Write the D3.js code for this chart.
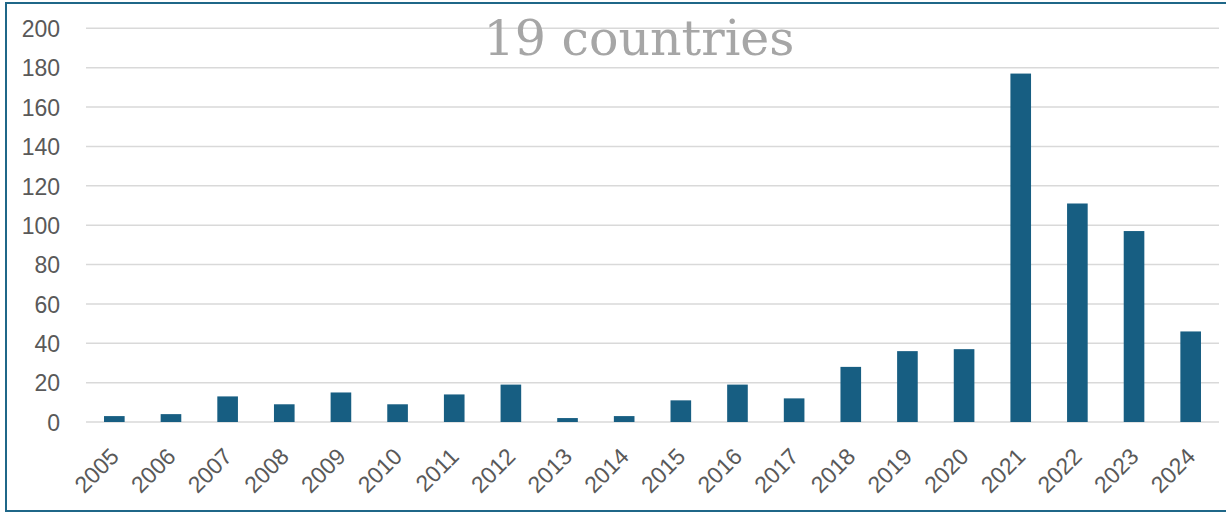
<!DOCTYPE html>
<html>
<head>
<meta charset="utf-8">
<script src="https://cdn.jsdelivr.net/npm/d3@7"></script>
<style>
  html, body { margin: 0; padding: 0; background: #fff; }
  svg { display: block; }
</style>
</head>
<body>
<svg id="chart" width="1226" height="513"></svg>
<script>
const years = ["2005","2006","2007","2008","2009","2010","2011","2012","2013","2014",
               "2015","2016","2017","2018","2019","2020","2021","2022","2023","2024"];
const counts = [3, 4, 13, 9, 15, 9, 14, 19, 2, 3, 11, 19, 12, 28, 36, 37, 177, 111, 97, 46];
const yTicks = [0, 20, 40, 60, 80, 100, 120, 140, 160, 180, 200];
const title = "19 countries";

const svg = d3.select("#chart");
const W = 1226, H = 513;
const plotLeft = 86, plotRight = 1219, plotTop = 28.3, plotBottom = 422;

// frame
svg.append("path")
  .attr("d", `M${W + 5},3 L6,3 L6,511 L${W + 5},511`)
  .attr("fill", "none")
  .attr("stroke", "#1f6788")
  .attr("stroke-width", 2);

const x = d3.scaleBand().domain(years).range([plotLeft, plotRight]).paddingInner(0.636).paddingOuter(0.318);
const y = d3.scaleLinear().domain([0, 200]).range([plotBottom, plotTop]);

// gridlines
svg.append("g").selectAll("line").data(yTicks).join("line")
  .attr("x1", plotLeft).attr("x2", plotRight)
  .attr("y1", d => y(d)).attr("y2", d => y(d))
  .attr("stroke", "#d9d9d9").attr("stroke-width", 1.5);

// y-axis labels
const yAxis = d3.axisLeft(y).tickValues(yTicks).tickSize(0).tickPadding(0);
const gy = svg.append("g").attr("transform", `translate(60,0)`).call(yAxis);
gy.select(".domain").remove();
gy.selectAll("text")
  .attr("font-family", "'Liberation Sans', Arial, sans-serif")
  .attr("font-size", 23)
  .attr("fill", "#595959")
  .attr("dy", "0.36em");

// bars
svg.append("g").selectAll("rect").data(years).join("rect")
  .attr("x", d => x(d))
  .attr("width", x.bandwidth())
  .attr("y", (d, i) => y(counts[i]))
  .attr("height", (d, i) => y(0) - y(counts[i]))
  .attr("fill", "#175e82");

// x-axis labels
const xAxis = d3.axisBottom(x).tickSize(0).tickPadding(0);
const gx = svg.append("g").attr("transform", `translate(0,${plotBottom})`).call(xAxis);
gx.select(".domain").remove();
gx.selectAll("text")
  .attr("font-family", "'Liberation Sans', Arial, sans-serif")
  .attr("font-size", 23)
  .attr("fill", "#595959")
  .attr("text-anchor", "end")
  .attr("y", 0).attr("dy", 0)
  .attr("transform", "translate(6,36) rotate(-45)");

// title
svg.append("text")
  .attr("x", 639).attr("y", 55)
  .attr("text-anchor", "middle")
  .attr("font-family", "'DejaVu Serif', serif")
  .attr("font-size", 49)
  .attr("fill", "#a6a6a6")
  .text(title);
</script>
</body>
</html>
